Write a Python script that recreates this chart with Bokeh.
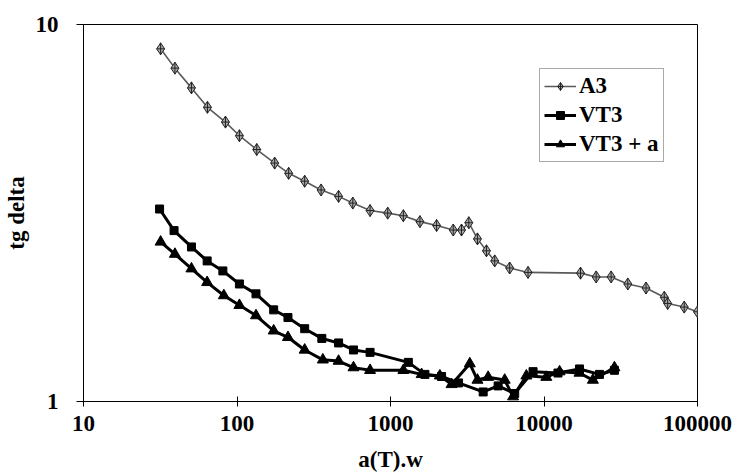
from bokeh.plotting import figure
from bokeh.models import Legend, LegendItem, FixedTicker, NumeralTickFormatter
from bokeh.embed import file_html
from bokeh.resources import INLINE

# ---- data ----
a3_x = [31.8, 39.4, 50.5, 64.2, 84.1, 103.7, 134.5, 176, 217, 276, 353, 459, 568, 736,
        959, 1213, 1555, 1997, 2563, 2902, 3237, 3686, 4218, 4775, 5976, 7870,
        17290, 21870, 27370, 35150, 46200, 60760, 63930, 81950, 100000]
a3_y = [8.62, 7.66, 6.79, 6.03, 5.51, 5.07, 4.66, 4.29, 4.03, 3.84, 3.64, 3.50, 3.36, 3.21,
        3.16, 3.11, 3.00, 2.93, 2.85, 2.85, 2.98, 2.70, 2.51, 2.36, 2.26, 2.20,
        2.19, 2.14, 2.14, 2.05, 2.00, 1.89, 1.82, 1.78, 1.73]

vt3_x = [31.3, 38.9, 50.5, 63.9, 80.9, 103.7, 133, 173.4, 214.8, 276, 357, 459, 574, 736,
         1307, 1676, 2151, 2775, 4015, 5024, 6442, 8485, 12330, 17030, 22980, 28770]
vt3_y = [3.24, 2.84, 2.57, 2.36, 2.22, 2.05, 1.93, 1.75, 1.67, 1.56, 1.47, 1.43, 1.37, 1.35,
         1.27, 1.18, 1.165, 1.12, 1.06, 1.10, 1.05, 1.20, 1.19, 1.22, 1.18, 1.21]

vt3a_x = [31.8, 39.4, 50.5, 63.9, 82.1, 103.7, 133, 173.4, 214.8, 276, 362.6, 459, 574, 736,
          1213, 1595, 2097, 2499, 3286, 3686, 4326, 5546, 6290, 7674, 10350, 12630,
          17030, 20820, 28770]
vt3a_y = [2.65, 2.46, 2.25, 2.07, 1.91, 1.80, 1.69, 1.54, 1.48, 1.37, 1.29, 1.28, 1.23, 1.21,
          1.21, 1.18, 1.17, 1.11, 1.26, 1.14, 1.16, 1.14, 1.03, 1.17, 1.16, 1.20,
          1.19, 1.14, 1.23]

series_names = ["A3", "VT3", "VT3 + a"]
x_ticks = [10, 100, 1000, 10000, 100000]
x_tick_labels = ["10", "100", "1000", "10000", "100000"]
y_ticks = [1, 10]
y_tick_labels = ["1", "10"]
x_title = "a(T).w"
y_title = "tg delta"

FONT = "Liberation Serif"
FS = "23px"

p = figure(width=739, height=476, x_axis_type="log", y_axis_type="log",
           x_range=(10, 100000), y_range=(1, 10),
           output_backend="svg", toolbar_location=None,
           min_border_left=81, min_border_right=42, min_border_top=24, min_border_bottom=75)

p.xgrid.visible = False
p.ygrid.visible = False
p.outline_line_color = "black"
p.outline_line_width = 1
p.background_fill_color = "white"
p.border_fill_color = "white"

# x axis
xa = p.xaxis[0]
xa.ticker = FixedTicker(ticks=x_ticks, minor_ticks=[])
xa.formatter = NumeralTickFormatter(format="0")
xa.major_label_overrides = {t: l for t, l in zip(x_ticks, x_tick_labels)}
xa.major_tick_in = 5
xa.major_tick_out = 5
xa.minor_tick_in = 0
xa.minor_tick_out = 0
xa.major_label_standoff = 9
xa.axis_label = x_title
xa.axis_label_standoff = 13
for ax in (p.xaxis[0], p.yaxis[0]):
    ax.major_label_text_font = FONT
    ax.major_label_text_font_style = "bold"
    ax.major_label_text_font_size = FS
    ax.major_label_text_color = "black"
    ax.axis_label_text_font = FONT
    ax.axis_label_text_font_style = "bold"
    ax.axis_label_text_font_size = FS
    ax.axis_label_text_color = "black"
    ax.axis_line_color = "black"
    ax.major_tick_line_color = "black"

# y axis
ya = p.yaxis[0]
ya.ticker = FixedTicker(ticks=y_ticks, minor_ticks=[])
ya.formatter = NumeralTickFormatter(format="0")
ya.major_label_overrides = {t: l for t, l in zip(y_ticks, y_tick_labels)}
ya.major_tick_in = 0
ya.major_tick_out = 7
ya.minor_tick_in = 0
ya.minor_tick_out = 0
ya.major_label_standoff = 18
ya.axis_label = y_title
ya.axis_label_standoff = 4

# series
l1 = p.line(a3_x, a3_y, line_color="#5a5a5a", line_width=1.6)
s1 = p.scatter(a3_x, a3_y, marker="diamond_cross", size=12, line_color="#222222",
               fill_color="#a8a8a8", line_width=1)
l2 = p.line(vt3_x, vt3_y, line_color="black", line_width=3)
s2 = p.scatter(vt3_x, vt3_y, marker="square", size=8, line_color="black", fill_color="black")
l3 = p.line(vt3a_x, vt3a_y, line_color="black", line_width=3)
s3 = p.scatter(vt3a_x, vt3a_y, marker="triangle", size=11, line_color="black", fill_color="black")

legend = Legend(items=[LegendItem(label=series_names[0], renderers=[l1, s1]),
                       LegendItem(label=series_names[1], renderers=[l2, s2]),
                       LegendItem(label=series_names[2], renderers=[l3, s3])],
                location=(456, 239))
legend.label_text_font = FONT
legend.label_text_font_style = "bold"
legend.label_text_font_size = FS
legend.label_text_color = "black"
legend.glyph_width = 32
legend.glyph_height = 20
legend.label_standoff = 3
legend.label_height = 26
legend.padding = 4
legend.spacing = 3
legend.margin = 0
legend.border_line_color = "#555555"
legend.border_line_width = 1
legend.background_fill_color = "white"
legend.background_fill_alpha = 1
p.add_layout(legend, "center")

open("out.html", "w").write(file_html(p, INLINE))
